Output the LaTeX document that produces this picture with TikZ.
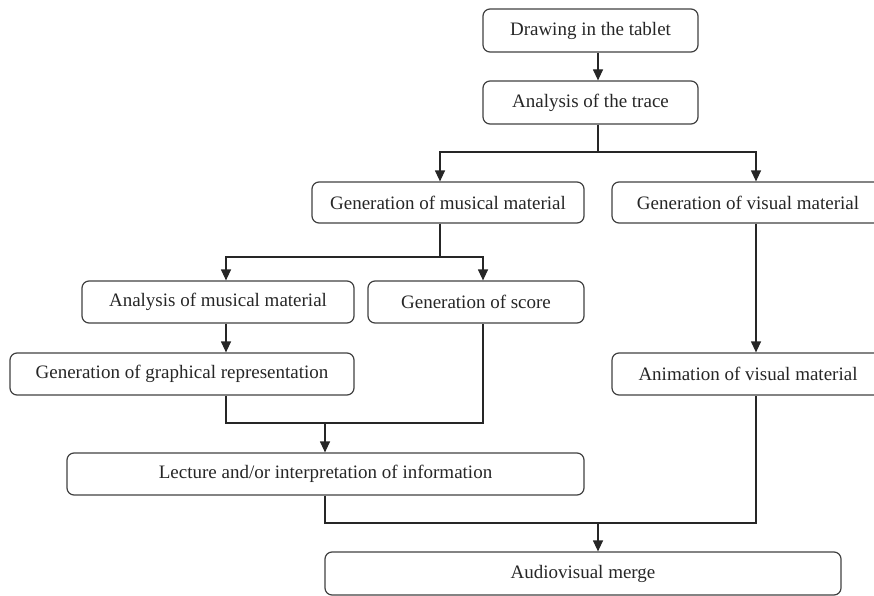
\documentclass[tikz,border=0pt]{standalone}
\usepackage{fontspec}
\setmainfont{Liberation Serif}
\usetikzlibrary{arrows.meta}

\begin{document}
\begin{tikzpicture}[x=1pt,y=-1pt,
    box/.style={draw=black!75,line width=1.2pt,rounded corners=7pt,inner sep=0pt,
                text=black!85,font=\fontsize{19}{22}\selectfont},
    link/.style={draw=black!85,line width=1.2pt},
    arr/.style={link,-{Triangle[length=11pt,width=10pt]}}]
            \useasboundingbox (0,0) rectangle (874,596);

            % Place the boxes
            \node[box,minimum width=215,minimum height=43] (tablet) at (590.5,30.5) {Drawing in the tablet};
            \node[box,minimum width=215,minimum height=43] (trace) at (590.5,102.5) {Analysis of the trace};
            \node[box,minimum width=272,minimum height=41] (musical) at (448,202.5) {Generation of musical material};
            \node[box,minimum width=272,minimum height=41] (visual) at (748,202.5) {Generation of visual material};
            \node[box,minimum width=272,minimum height=42] (analysis) at (218,302) {Analysis of musical material};
            \node[box,minimum width=216,minimum height=42] (score) at (476,302) {Generation of score};
            \node[box,minimum width=344,minimum height=42] (graphic) at (182,374) {Generation of graphical representation};
            \node[box,minimum width=272,minimum height=42] (animation) at (748,374) {Animation of visual material};
            \node[box,minimum width=517,minimum height=42] (lecture) at (325.5,474) {Lecture and/or interpretation of information};
            \node[box,minimum width=516,minimum height=43] (merge) at (583,573.5) {Audiovisual merge};

            % Columns and rows of the connectors
            \coordinate (cT) at (598,0);
            \coordinate (cM) at (440,0);
            \coordinate (cV) at (756,0);
            \coordinate (cA) at (226,0);
            \coordinate (cS) at (483,0);
            \coordinate (cL) at (325,0);
            \coordinate (r1) at (0,152);
            \coordinate (r2) at (0,257);
            \coordinate (r3) at (0,423);
            \coordinate (r4) at (0,523);

            % The lines!
            \draw[arr] (tablet.south -| cT) -- (trace.north -| cT);
            \draw[arr] (trace.south -| cT) -- (r1 -| cT) -| (musical.north -| cM);
            \draw[arr] (trace.south -| cT) -- (r1 -| cT) -| (visual.north -| cV);
            \draw[arr] (musical.south -| cM) -- (r2 -| cM) -| (analysis.north -| cA);
            \draw[arr] (musical.south -| cM) -- (r2 -| cM) -| (score.north -| cS);
            \draw[arr] (analysis.south -| cA) -- (graphic.north -| cA);
            \draw[arr] (visual.south -| cV) -- (animation.north -| cV);
            \draw[link] (graphic.south -| cA) |- (r3 -| cS) -- (score.south -| cS);
            \draw[arr] (r3 -| cL) -- (lecture.north -| cL);
            \draw[link] (lecture.south -| cL) |- (r4 -| cV) -- (animation.south -| cV);
            \draw[arr] (r4 -| cT) -- (merge.north -| cT);
        \end{tikzpicture}
\end{document}
